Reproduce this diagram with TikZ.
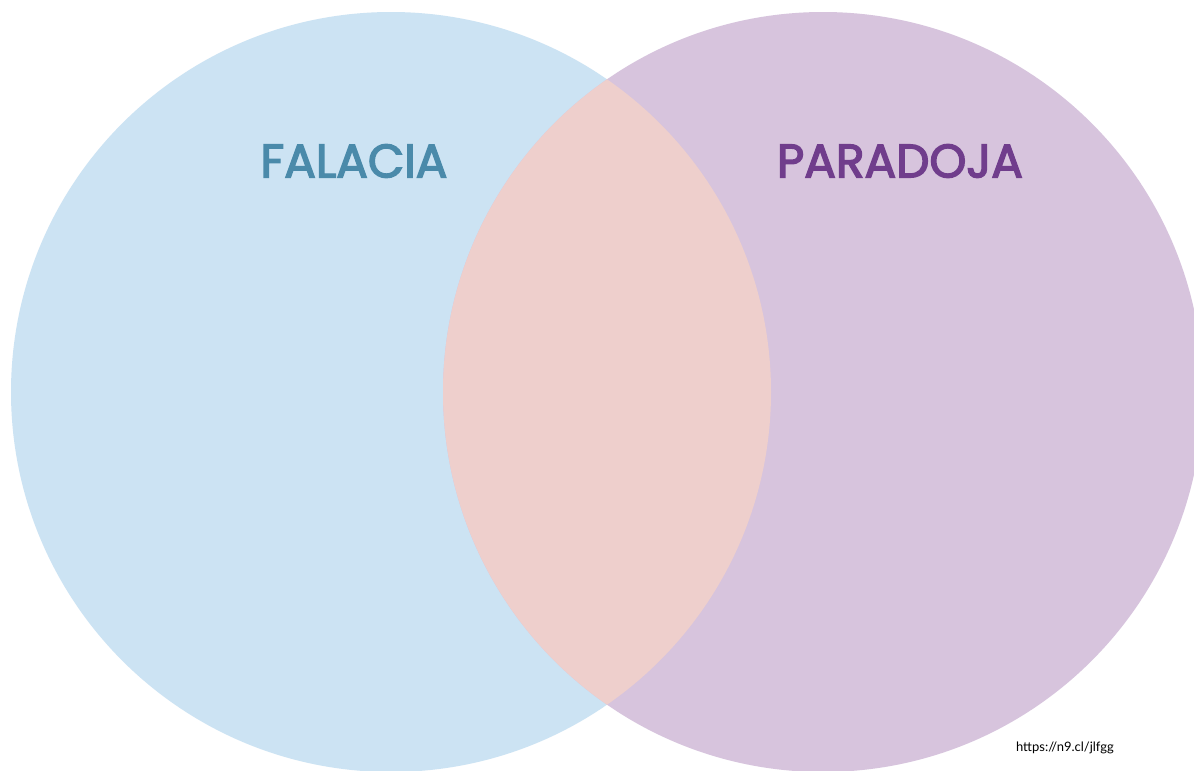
\documentclass[tikz,border=0pt]{standalone}
\usepackage{fontspec}
\setmainfont{Poppins}
\newfontfamily\titlefont[FakeBold=3]{Poppins}
\newfontfamily\urlfont{Lato}
\definecolor{cblue}{HTML}{CCE3F3}
\definecolor{cpurple}{HTML}{D7C4DD}
\definecolor{clens}{HTML}{EECFCC}
\definecolor{tblue}{HTML}{4A8AAA}
\definecolor{tpurple}{HTML}{703D8C}
\begin{document}
\begin{tikzpicture}[x=1pt,y=-1pt,
  title/.style={font=\titlefont\fontsize{47}{47}\selectfont, inner sep=0pt}]
\useasboundingbox (0,0) rectangle (1194,771);
\clip (0,0) rectangle (1194,771);
\fill[white] (0,0) rectangle (1194,771);
\fill[cblue] (391,392) circle (380);
\fill[cpurple] (823,392) circle (380);
\begin{scope}
  \clip (391,392) circle (380);
  \fill[clens] (823,392) circle (380);
\end{scope}
\node[title, text=tblue] (fal) at (354,161) {FALACIA};
\node[title, text=tpurple] (par) at (900,161) {PARADOJA};
\node[font=\urlfont\fontsize{13}{13}\selectfont, inner sep=0pt] (url) at (1065,748) {https://n9.cl/jlfgg};
\end{tikzpicture}
\end{document}
